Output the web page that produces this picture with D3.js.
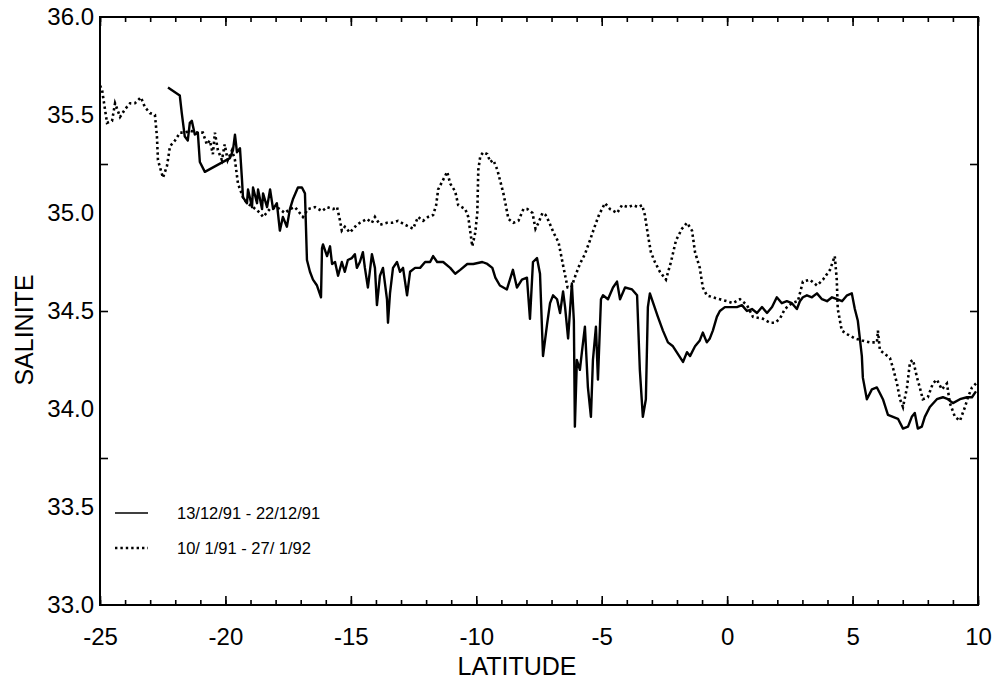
<!DOCTYPE html>
<html>
<head>
<meta charset="utf-8">
<script src="https://cdn.jsdelivr.net/npm/d3@7"></script>
<style>
  body { margin: 0; background: #fff; }
  svg { display: block; }
  text { font-family: "Liberation Sans", Arial, Helvetica, sans-serif; fill: #000; }
  .axis .domain { display: none; }
  .axis line { stroke: #000; stroke-width: 1.6; }
</style>
</head>
<body>
<div id="chart"></div>
<script>
// latitude / salinity pairs
const cruiseDec = [
  [-22.29,35.64],[-21.82,35.60],[-21.74,35.51],[-21.62,35.39],[-21.50,35.37],[-21.42,35.46],[-21.34,35.47],
  [-21.22,35.40],[-21.10,35.41],[-21.02,35.26],[-20.82,35.21],[-19.82,35.28],[-19.70,35.32],[-19.62,35.40],
  [-19.54,35.31],[-19.42,35.33],[-19.34,35.17],[-19.30,35.08],[-19.14,35.05],[-19.10,35.12],[-18.94,35.03],
  [-18.90,35.13],[-18.74,35.05],[-18.70,35.12],[-18.54,35.02],[-18.50,35.10],[-18.34,35.03],[-18.22,35.12],
  [-18.10,35.02],[-17.95,35.05],[-17.83,34.91],[-17.71,34.98],[-17.55,34.93],[-17.43,35.02],[-17.31,35.07],
  [-17.11,35.13],[-16.95,35.13],[-16.83,35.10],[-16.75,34.76],[-16.63,34.70],[-16.51,34.66],[-16.35,34.63],
  [-16.19,34.57],[-16.15,34.82],[-16.11,34.84],[-15.95,34.78],[-15.83,34.83],[-15.75,34.74],[-15.63,34.75],
  [-15.51,34.68],[-15.36,34.75],[-15.24,34.70],[-15.12,34.76],[-14.96,34.77],[-14.84,34.79],[-14.76,34.72],
  [-14.64,34.75],[-14.52,34.80],[-14.44,34.72],[-14.32,34.62],[-14.16,34.79],[-14.04,34.72],[-13.96,34.53],
  [-13.84,34.68],[-13.72,34.72],[-13.56,34.56],[-13.52,34.44],[-13.44,34.59],[-13.32,34.72],[-13.16,34.75],
  [-13.04,34.70],[-12.92,34.72],[-12.76,34.58],[-12.64,34.70],[-12.44,34.72],[-12.24,34.72],[-12.04,34.75],
  [-11.84,34.75],[-11.72,34.78],[-11.56,34.75],[-11.32,34.75],[-11.04,34.72],[-10.84,34.69],[-10.64,34.71],
  [-10.36,34.74],[-10.12,34.74],[-9.76,34.75],[-9.56,34.74],[-9.36,34.72],[-9.24,34.67],[-9.06,34.63],
  [-8.78,34.61],[-8.54,34.71],[-8.38,34.62],[-8.18,34.66],[-7.98,34.67],[-7.86,34.46],[-7.74,34.75],
  [-7.58,34.77],[-7.46,34.69],[-7.34,34.27],[-7.18,34.43],[-7.06,34.54],[-6.94,34.58],[-6.78,34.56],
  [-6.66,34.49],[-6.54,34.60],[-6.46,34.52],[-6.34,34.36],[-6.19,34.64],[-6.11,34.45],[-6.07,33.91],
  [-5.99,34.25],[-5.87,34.20],[-5.79,34.29],[-5.67,34.42],[-5.55,34.11],[-5.43,33.96],[-5.35,34.25],
  [-5.23,34.42],[-5.15,34.15],[-5.03,34.56],[-4.95,34.58],[-4.75,34.56],[-4.55,34.62],[-4.39,34.65],
  [-4.27,34.56],[-4.07,34.62],[-3.79,34.61],[-3.59,34.58],[-3.48,34.20],[-3.36,33.96],[-3.24,34.05],
  [-3.16,34.52],[-3.08,34.59],[-2.92,34.53],[-2.76,34.47],[-2.56,34.40],[-2.36,34.34],[-2.16,34.32],
  [-1.96,34.28],[-1.76,34.24],[-1.60,34.29],[-1.48,34.27],[-1.28,34.32],[-1.09,34.35],[-0.97,34.39],
  [-0.81,34.34],[-0.69,34.36],[-0.57,34.40],[-0.41,34.47],[-0.29,34.50],[-0.09,34.52],[0.11,34.52],
  [0.39,34.52],[0.59,34.53],[0.79,34.50],[0.99,34.51],[1.19,34.49],[1.39,34.52],[1.59,34.49],[1.79,34.52],
  [1.98,34.57],[2.18,34.54],[2.38,34.55],[2.58,34.54],[2.78,34.51],[2.90,34.55],[3.02,34.57],[3.18,34.58],
  [3.38,34.57],[3.58,34.59],[3.78,34.56],[3.98,34.55],[4.18,34.57],[4.38,34.56],[4.58,34.55],[4.78,34.58],
  [4.97,34.59],[5.09,34.51],[5.21,34.45],[5.37,34.27],[5.41,34.16],[5.57,34.05],[5.77,34.10],[5.97,34.11],
  [6.09,34.08],[6.21,34.05],[6.41,33.97],[6.61,33.96],[6.81,33.95],[7.01,33.90],[7.21,33.91],[7.36,33.96],
  [7.48,33.98],[7.60,33.90],[7.76,33.91],[7.88,33.96],[8.08,34.01],[8.36,34.05],[8.60,34.06],[8.80,34.05],
  [9.00,34.03],[9.28,34.05],[9.56,34.06],[9.76,34.06],[9.92,34.09]
];

const cruiseJan = [
  [-25.00,35.65],[-24.92,35.63],[-24.72,35.46],[-24.52,35.47],[-24.40,35.56],[-24.20,35.49],[-24.00,35.53],
  [-23.80,35.56],[-23.61,35.56],[-23.37,35.59],[-23.21,35.54],[-23.01,35.51],[-22.81,35.50],[-22.73,35.39],
  [-22.69,35.27],[-22.49,35.18],[-22.33,35.24],[-22.21,35.34],[-22.01,35.37],[-21.81,35.41],[-21.61,35.41],
  [-21.42,35.42],[-21.14,35.41],[-20.90,35.41],[-20.74,35.35],[-20.62,35.37],[-20.50,35.30],[-20.42,35.41],
  [-20.30,35.32],[-20.14,35.27],[-20.03,35.35],[-19.91,35.27],[-19.74,35.32],[-19.62,35.27],[-19.50,35.15],
  [-19.30,35.08],[-19.14,35.05],[-18.90,35.03],[-18.62,35.00],[-18.50,34.98],[-18.23,35.02],[-17.95,35.03],
  [-17.63,35.00],[-17.43,35.02],[-17.23,35.03],[-16.91,34.98],[-16.71,35.02],[-16.43,35.03],[-16.15,35.01],
  [-15.95,35.03],[-15.71,35.02],[-15.55,35.03],[-15.43,34.96],[-15.36,34.91],[-15.24,34.93],[-15.04,34.90],
  [-14.76,34.94],[-14.64,34.95],[-14.36,34.97],[-14.16,34.95],[-14.04,34.98],[-13.84,34.94],[-13.56,34.95],
  [-13.36,34.95],[-13.12,34.96],[-12.84,34.94],[-12.52,34.92],[-12.32,34.98],[-12.12,34.96],[-11.92,34.98],
  [-11.72,34.99],[-11.60,35.04],[-11.52,35.12],[-11.24,35.19],[-11.16,35.21],[-11.04,35.15],[-10.84,35.11],
  [-10.72,35.04],[-10.44,35.02],[-10.32,34.98],[-10.16,34.83],[-10.04,34.90],[-9.96,35.00],[-9.92,35.22],
  [-9.84,35.29],[-9.72,35.31],[-9.56,35.30],[-9.44,35.26],[-9.32,35.27],[-9.16,35.22],[-9.04,35.16],
  [-8.92,35.10],[-8.84,35.05],[-8.72,34.97],[-8.52,34.95],[-8.32,34.96],[-8.12,35.02],[-7.96,35.02],
  [-7.76,35.00],[-7.64,34.92],[-7.52,34.95],[-7.36,35.00],[-7.24,34.99],[-7.12,34.96],[-6.92,34.90],
  [-6.72,34.85],[-6.52,34.72],[-6.36,34.62],[-6.21,34.62],[-6.05,34.68],[-5.87,34.74],[-5.67,34.79],
  [-5.47,34.86],[-5.31,34.92],[-5.11,34.99],[-4.87,35.05],[-4.67,35.02],[-4.39,35.00],[-4.19,35.04],
  [-3.95,35.03],[-3.75,35.04],[-3.55,35.03],[-3.39,35.04],[-3.28,34.99],[-3.16,34.89],[-3.04,34.80],
  [-2.88,34.75],[-2.68,34.70],[-2.44,34.66],[-2.24,34.75],[-2.04,34.86],[-1.80,34.92],[-1.60,34.95],
  [-1.40,34.91],[-1.28,34.80],[-1.09,34.72],[-0.97,34.62],[-0.81,34.58],[-0.57,34.57],[-0.29,34.56],
  [-0.01,34.55],[0.23,34.54],[0.51,34.56],[0.79,34.53],[1.03,34.47],[1.43,34.46],[1.71,34.44],[1.90,34.44],
  [2.10,34.46],[2.30,34.51],[2.58,34.54],[2.82,34.55],[3.02,34.65],[3.30,34.66],[3.58,34.63],[3.82,34.66],
  [4.10,34.71],[4.29,34.78],[4.37,34.66],[4.41,34.51],[4.57,34.40],[4.81,34.38],[5.09,34.36],[5.37,34.35],
  [5.69,34.34],[5.97,34.34],[6.01,34.40],[6.09,34.30],[6.29,34.28],[6.49,34.26],[6.61,34.21],[6.77,34.13],
  [6.89,34.05],[7.01,34.01],[7.17,34.11],[7.29,34.24],[7.41,34.25],[7.57,34.16],[7.68,34.11],[7.80,34.05],
  [8.00,34.06],[8.20,34.13],[8.36,34.15],[8.56,34.10],[8.76,34.13],[8.88,34.03],[9.08,33.96],[9.28,33.94],
  [9.48,34.01],[9.60,34.06],[9.76,34.11],[9.92,34.13]
];

const xLabels = [-25, -20, -15, -10, -5, 0, 5, 10];
const xMinorTicks = d3.range(-25, 10.5, 1);
const yLabels = [33.0, 33.5, 34.0, 34.5, 35.0, 35.5, 36.0];
const yTicks = [33.75, 34.5, 35.25];
const legendItems = [
  {label: '13/12/91 - 22/12/91', dash: null},
  {label: '10/ 1/91 - 27/ 1/92', dash: '2.4,3'}
];

const width = 1002, height = 681;
const margin = {top: 17, right: 24, bottom: 76, left: 100};
const innerW = width - margin.left - margin.right;
const innerH = height - margin.top - margin.bottom;

const svg = d3.select('#chart').append('svg')
    .attr('width', width)
    .attr('height', height);

const chart = svg.append('g')
    .attr('transform', `translate(${margin.left},${margin.top})`);

const x = d3.scaleLinear().domain([-25, 10]).range([0, innerW]);
const y = d3.scaleLinear().domain([33, 36]).range([innerH, 0]);

// bottom axis: labels + inward ticks (plain hyphen for negatives, as in the scan)
chart.append('g')
    .attr('class', 'axis')
    .attr('transform', `translate(0,${innerH})`)
    .call(d3.axisBottom(x).tickValues(xLabels).tickSizeInner(-9).tickSizeOuter(0)
        .tickPadding(23).tickFormat(d => String(d)))
    .call(g => g.selectAll('text').attr('font-size', 24).attr('font-family', null));

chart.append('g')
    .attr('class', 'axis')
    .attr('transform', `translate(0,${innerH})`)
    .call(d3.axisBottom(x).tickValues(xMinorTicks).tickSizeInner(-5).tickSizeOuter(0).tickFormat(''));

// top axis ticks
chart.append('g')
    .attr('class', 'axis')
    .call(d3.axisTop(x).tickValues(xLabels).tickSizeInner(-9).tickSizeOuter(0).tickFormat(''));
chart.append('g')
    .attr('class', 'axis')
    .call(d3.axisTop(x).tickValues(xMinorTicks).tickSizeInner(-5).tickSizeOuter(0).tickFormat(''));

// left axis: labels with no ticks, ticks on their own
chart.append('g')
    .attr('class', 'axis')
    .call(d3.axisLeft(y).tickValues(yLabels).tickSize(0).tickPadding(6).tickFormat(d3.format('.1f')))
    .call(g => g.selectAll('text').attr('font-size', 24).attr('font-family', null));
chart.append('g')
    .attr('class', 'axis')
    .call(d3.axisLeft(y).tickValues(yTicks).tickSizeInner(-8).tickSizeOuter(0).tickFormat(''));
chart.append('g')
    .attr('class', 'axis')
    .attr('transform', `translate(${innerW},0)`)
    .call(d3.axisRight(y).tickValues(yTicks).tickSizeInner(-8).tickSizeOuter(0).tickFormat(''));

// frame
chart.append('rect')
    .attr('width', innerW)
    .attr('height', innerH)
    .attr('fill', 'none')
    .attr('stroke', '#000')
    .attr('stroke-width', 2);

const line = d3.line()
    .x(d => x(d[0]))
    .y(d => y(d[1]));

chart.append('path')
    .datum(cruiseJan)
    .attr('d', line)
    .attr('fill', 'none')
    .attr('stroke', '#000')
    .attr('stroke-width', 2.6)
    .attr('stroke-dasharray', '2.4,3');

chart.append('path')
    .datum(cruiseDec)
    .attr('d', line)
    .attr('fill', 'none')
    .attr('stroke', '#000')
    .attr('stroke-width', 2.4)
    .attr('stroke-linejoin', 'round');

// legend
const legend = svg.append('g').attr('transform', 'translate(115,513)');
legendItems.forEach((item, i) => {
    const row = legend.append('g').attr('transform', `translate(0,${i * 35})`);
    row.append('line')
        .attr('x1', 0).attr('x2', 33)
        .attr('stroke', '#000')
        .attr('stroke-width', item.dash ? 2.6 : 1.6)
        .attr('stroke-dasharray', item.dash);
    row.append('text')
        .attr('x', 62)
        .attr('dy', '0.35em')
        .attr('font-size', 16.5)
        .style('white-space', 'pre')
        .text(item.label);
});

// axis titles
svg.append('text')
    .attr('x', 517)
    .attr('y', 675)
    .attr('text-anchor', 'middle')
    .attr('font-size', 25)
    .text('LATITUDE');

svg.append('text')
    .attr('transform', 'translate(33,330) rotate(-90)')
    .attr('text-anchor', 'middle')
    .attr('font-size', 25)
    .text('SALINITE');
</script>
</body>
</html>
